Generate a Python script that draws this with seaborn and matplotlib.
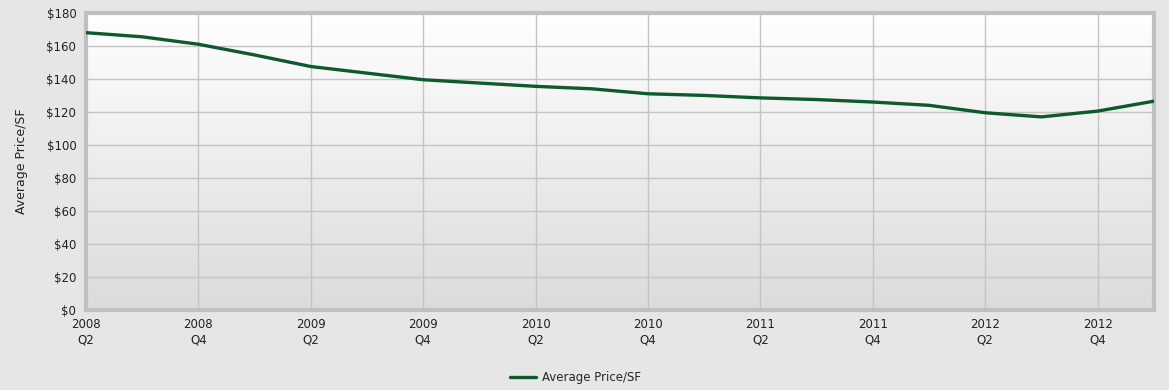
import matplotlib
matplotlib.use("Agg")
import matplotlib.pyplot as plt
import numpy as np
import pandas as pd
import seaborn as sns

# quarterly data, 2008 Q2 .. 2013 Q1
quarters = ["2008 Q2", "2008 Q3", "2008 Q4", "2009 Q1", "2009 Q2", "2009 Q3",
            "2009 Q4", "2010 Q1", "2010 Q2", "2010 Q3", "2010 Q4", "2011 Q1",
            "2011 Q2", "2011 Q3", "2011 Q4", "2012 Q1", "2012 Q2", "2012 Q3",
            "2012 Q4", "2013 Q1"]
price_sf = [168, 165.5, 161, 154.5, 147.5, 143.5, 139.5, 137.5, 135.5, 134,
            131, 130, 128.5, 127.5, 126, 124, 119.5, 117, 120.5, 126.5]

df = pd.DataFrame({"idx": range(len(quarters)), "quarter": quarters,
                   "Average Price/SF": price_sf})

sns.set_style("white")
plt.rcParams["font.family"] = ["DejaVu Sans"]

fig = plt.figure(figsize=(11.69, 3.9), dpi=100, facecolor="#e6e6e6")
ax = fig.add_axes([0.0736, 0.205, 0.9134, 0.762])

# vertical gradient in plot area
grad = np.linspace(1, 0, 256).reshape(-1, 1)
top, bot = np.array([1.0, 1.0, 1.0]), np.array([0.86, 0.86, 0.86])
img = bot + (top - bot) * grad[..., None]
ax.imshow(img, extent=[0, 1, 0, 1], transform=ax.transAxes,
          aspect="auto", zorder=0)

sns.lineplot(data=df, x="idx", y="Average Price/SF", ax=ax, color="#0d5a2c",
             linewidth=2.4, legend=False, zorder=3)

ax.set_xlim(0, len(quarters) - 1)
ax.set_ylim(0, 180)
ticks = list(range(0, len(quarters) - 1, 2))
ax.set_xticks(ticks)
ax.set_xticklabels([quarters[i].replace(" ", "\n") for i in ticks],
                   fontsize=8.5, color="#222222")
ax.set_yticks(range(0, 181, 20))
ax.set_yticklabels([f"${v}" for v in range(0, 181, 20)], fontsize=8.5,
                   color="#222222")
ax.tick_params(axis="y", length=0, pad=7)
ax.tick_params(axis="x", length=0, pad=6)
ax.grid(True, color="#c4c4c4", linewidth=1, zorder=1)
ax.set_axisbelow(True)
for s in ax.spines.values():
    s.set_color("#c0c0c0")
    s.set_linewidth(3)
ax.set_xlabel("")
ax.set_ylabel("Average Price/SF", fontsize=9, color="#222222", labelpad=13)

handle = ax.get_lines()[0]
fig.legend([handle], ["Average Price/SF"], loc="center",
           bbox_to_anchor=(0.492, 0.031), frameon=False, fontsize=8.5,
           handlelength=2.2, handletextpad=0.5)

fig.savefig("out.png", dpi=100, facecolor=fig.get_facecolor())
